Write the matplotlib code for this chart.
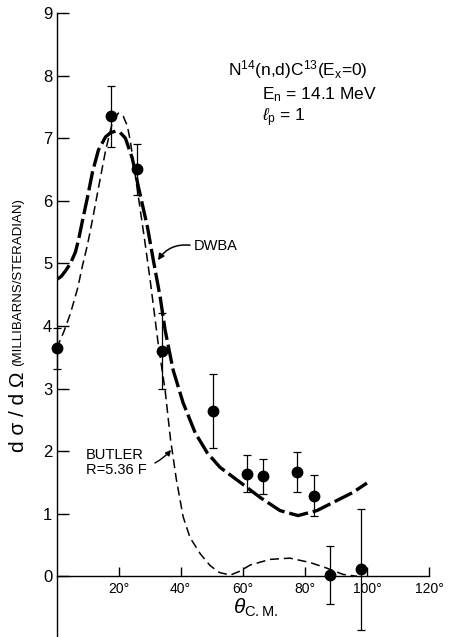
import matplotlib
matplotlib.use('Agg')
import matplotlib.pyplot as plt

plt.rcParams['font.family'] = ['Liberation Sans', 'DejaVu Sans']
plt.rcParams['mathtext.fontset'] = 'custom'
plt.rcParams['mathtext.rm'] = 'Liberation Sans'
plt.rcParams['mathtext.it'] = 'Liberation Sans:italic'
plt.rcParams['lines.scale_dashes'] = False

theta_data = [0, 17.7, 26.0, 34.1, 50.3, 61.4, 66.6, 77.5, 83.0, 88.0, 98.0]
sigma_data = [3.64, 7.35, 6.50, 3.60, 2.64, 1.64, 1.60, 1.66, 1.29, 0.02, 0.11]
sigma_err = [0.33, 0.49, 0.41, 0.60, 0.59, 0.30, 0.28, 0.32, 0.33, 0.46, 0.97]

# DWBA curve (long dashes)
dwba_theta = [0, 1.5, 2.9, 4.5, 6.1, 7.2, 8.4, 10, 11.6, 13.5, 15.8, 17.5, 19, 20.5, 22.2,
              24.4, 26.4, 29.3, 31.2, 33.4, 35, 37.6, 40.8, 44.7, 48.6, 52.7, 59.2, 65.6,
              72, 77.8, 83.9, 90.3, 95.5, 100]
dwba_sigma = [4.74, 4.79, 4.88, 5.0, 5.18, 5.4, 5.69, 6.06, 6.46, 6.81, 7.02, 7.09, 7.11, 7.09,
              7.0, 6.68, 6.22, 5.58, 5.05, 4.46, 3.93, 3.29, 2.77, 2.29, 1.97, 1.74, 1.50, 1.26,
              1.05, 0.97, 1.05, 1.21, 1.34, 1.49]

# Butler curve R = 5.36 F (short dashes)
butler_theta = [0, 2.3, 4.5, 6.8, 8.4, 10, 11.6, 13.5, 15.8, 18, 19.9, 21.5, 22.8, 23.8,
                25.4, 27, 28.6, 30.2, 32.8, 35, 36.7, 38.6, 40.8, 43, 46.3, 49.5, 52.5,
                56, 59, 62.4, 68.8, 75.2, 81.7, 87.1, 92.3, 96.8]
butler_sigma = [3.64, 3.9, 4.2, 4.6, 4.97, 5.3, 5.7, 6.2, 6.8, 7.25, 7.40, 7.35, 7.2, 6.95,
                6.4, 5.85, 5.3, 4.72, 3.7, 2.97, 2.2, 1.55, 0.95, 0.62, 0.36, 0.17, 0.06,
                0.02, 0.08, 0.18, 0.27, 0.29, 0.22, 0.13, 0.03, 0.0]

xticks = [20, 40, 60, 80, 100, 120]
xtick_labels = ['20°', '40°', '60°', '80°', '100°', '120°']
yticks = [0, 1, 2, 3, 4, 5, 6, 7, 8, 9]

W, H = 453, 637
fig = plt.figure(figsize=(W / 100, H / 100), dpi=100)
ax = fig.add_axes([56.5 / W, 0, (429 - 56.5) / W, 624 / H])

ax.plot(dwba_theta, dwba_sigma, color='black', lw=2.4, dashes=(14, 3.5))
ax.plot(butler_theta, butler_sigma, color='black', lw=1.1, dashes=(6.5, 3.5))
ax.errorbar(theta_data, sigma_data, yerr=sigma_err, fmt='o', color='black', ms=7.5,
            elinewidth=0.9, capsize=3, capthick=0.9, zorder=5, clip_on=False)

ax.set_xlim(0, 120)
ax.set_ylim(-0.97, 9)
ax.set_xticks(xticks)
ax.set_xticklabels(xtick_labels)
ax.set_yticks(yticks)
ax.tick_params(axis='y', direction='in', length=8.5, width=1, labelsize=12, pad=3)
ax.tick_params(axis='x', direction='in', length=6.5, width=1, labelsize=10, pad=4)
ax.spines['bottom'].set_position(('data', 0))
ax.spines['top'].set_visible(False)
ax.spines['right'].set_visible(False)
for s in ['left', 'bottom']:
    ax.spines[s].set_linewidth(1.0)

# labels on the curves
ax.text(44.2, 5.28, 'DWBA', fontsize=10.5, ha='left', va='center')
ax.annotate('', xy=(32.7, 5.05), xytext=(43.0, 5.29),
            arrowprops=dict(arrowstyle='-|>', connectionstyle='arc3,rad=0.3',
                            lw=1.1, color='black', shrinkA=0, shrinkB=0, mutation_scale=9))
ax.text(9.5, 1.94, 'BUTLER', fontsize=10.5, ha='left', va='center')
ax.text(9.5, 1.70, 'R=5.36 F', fontsize=10.5, ha='left', va='center')
ax.annotate('', xy=(36.9, 2.02), xytext=(31.7, 1.81),
            arrowprops=dict(arrowstyle='-|>', connectionstyle='arc3,rad=0.1',
                            lw=1.0, color='black', shrinkA=0, shrinkB=0, mutation_scale=8))

# reaction text
fig.text(228 / W, 1 - 70 / H, r'N$^{14}$(n,d)C$^{13}$(E$_{\rm x}$=0)', fontsize=12.5, va='center')
fig.text(262 / W, 1 - 95 / H, r'E$_{\rm n}$ = 14.1 MeV', fontsize=12.5, va='center')
fig.text(262 / W, 1 - 118 / H, r'$\ell_{\rm p}$ = 1', fontsize=12.5, va='center')

# axis titles
fig.text(233 / W, 1 - 619 / H, r'$\theta_{\rm C.M.}$', fontsize=15, ha='left', va='bottom')
fig.text(18 / W, 1 - 452 / H, 'd σ / d Ω', fontsize=15, rotation=90, ha='center', va='bottom')
fig.text(18 / W, 1 - 366 / H, '(MILLIBARNS/STERADIAN)', fontsize=9.5, rotation=90,
         ha='center', va='bottom')

fig.savefig('out.png', dpi=100)
